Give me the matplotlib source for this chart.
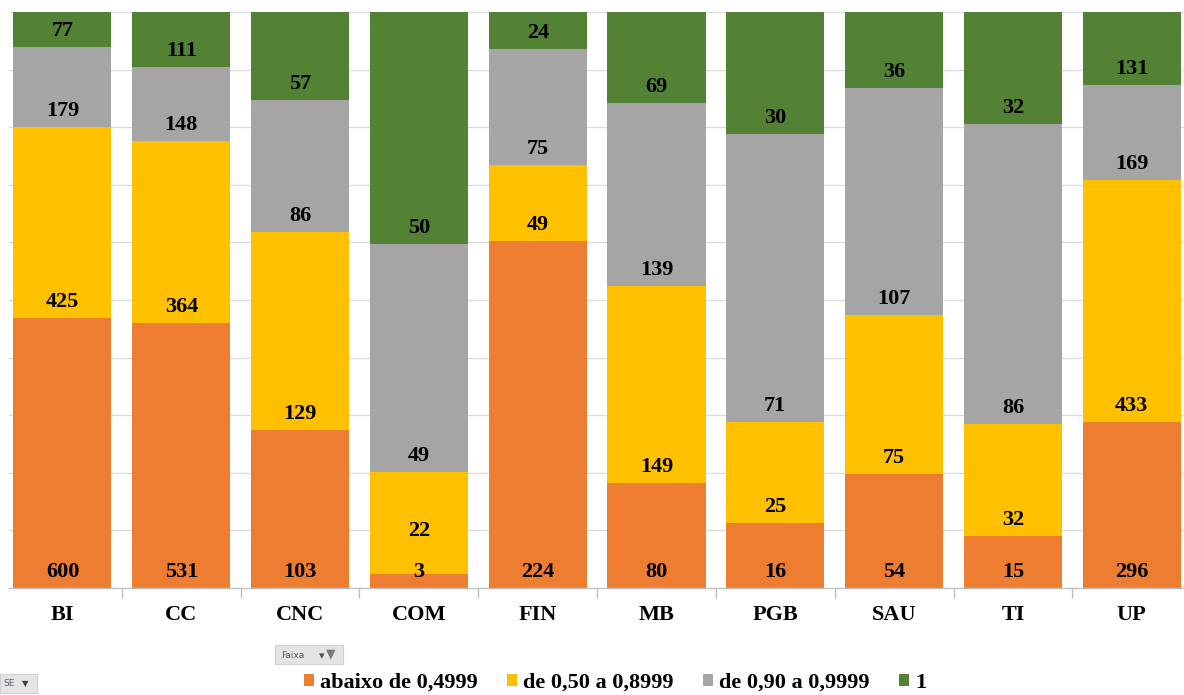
import matplotlib
matplotlib.use("Agg")
import matplotlib.pyplot as plt
from matplotlib.patches import FancyBboxPatch
import numpy as np

categories = ["BI", "CC", "CNC", "COM", "FIN", "MB", "PGB", "SAU", "TI", "UP"]
series_names = ["abaixo de 0,4999", "de 0,50 a 0,8999", "de 0,90 a 0,9999", "1"]
abaixo = [600, 531, 103, 3, 224, 80, 16, 54, 15, 296]
de050 = [425, 364, 129, 22, 49, 149, 25, 75, 32, 433]
de090 = [179, 148, 86, 49, 75, 139, 71, 107, 86, 169]
um = [77, 111, 57, 50, 24, 69, 30, 36, 32, 131]
colors = ["#ED7D31", "#FFC000", "#A5A5A5", "#548235"]

plt.rcParams["font.family"] = ["Liberation Serif", "DejaVu Serif"]

fig = plt.figure(figsize=(11.84, 6.95), dpi=100)
ax_h_px = 588 - 12
ax = fig.add_axes([9 / 1184, 107 / 695, 1 - 9 / 1184, ax_h_px / 695])

data = np.array([abaixo, de050, de090, um], dtype=float)
totals = data.sum(axis=0)
shares = data / totals * 100
x = np.arange(len(categories))
bottom = np.zeros(len(categories))
width = 0.825

# label placement (data units): just above each segment base, pushed up if crowded
base_off = 16 / ax_h_px * 100
min_sep = 41 / ax_h_px * 100
last_label = np.full(len(categories), -1e9)

handles = []
for vals, pct, col, name in zip(data, shares, colors, series_names):
    bars = ax.bar(x, pct, width, bottom=bottom, color=col, label=name, zorder=2)
    handles.append(bars)
    for i, (xi, b, v) in enumerate(zip(x, bottom, vals)):
        y = max(b + base_off, last_label[i] + min_sep)
        last_label[i] = y
        ax.text(xi, y, f"{int(v)}", ha="center", va="center", fontsize=16,
                fontweight="bold", color="black", zorder=3)
    bottom += pct

ax.set_ylim(0, 100)
ax.set_yticks(np.arange(10, 101, 10))
ax.yaxis.grid(True, color="#DCDCDC", linewidth=1, zorder=0)
ax.tick_params(axis="y", left=False, labelleft=False)
for s in ["top", "right", "left"]:
    ax.spines[s].set_visible(False)
ax.spines["bottom"].set_color("#BFBFBF")
ax.spines["bottom"].set_linewidth(1)

ax.set_xticks(x)
ax.set_xticklabels(categories, fontsize=16, fontweight="bold")
ax.tick_params(axis="x", length=0, pad=12)
ax.set_xticks(np.arange(-0.5, 10, 1), minor=True)
ax.tick_params(axis="x", which="minor", length=7, color="#BFBFBF", width=1)
ax.set_xlim(-0.45, 9.44)

fig.legend(handles=handles, labels=series_names, loc="center",
           bbox_to_anchor=(615 / 1184, 1 - 683 / 695), ncol=4, frameon=False,
           prop={"size": 16, "weight": "bold"}, handlelength=0.45, handleheight=0.45,
           handletextpad=0.25, columnspacing=1.35)

# pivot field buttons
btn = FancyBboxPatch((275 / 1184, 1 - 664 / 695), 68 / 1184, 19 / 695,
                     boxstyle="square,pad=0", transform=fig.transFigure,
                     facecolor="#E4E4E4", edgecolor="#D0D0D0", linewidth=0.8)
fig.patches.append(btn)
fig.text(293 / 1184, 1 - 655 / 695, "Faixa", fontsize=6.5, family="DejaVu Sans",
         color="#505A6E", ha="center", va="center")
fig.text(322 / 1184, 1 - 656 / 695, "▾", fontsize=8, family="DejaVu Sans",
         color="#505050", ha="center", va="center")
fig.text(331 / 1184, 1 - 654 / 695, "▼", fontsize=9, family="DejaVu Sans",
         color="#7A7A7A", ha="center", va="center")

btn2 = FancyBboxPatch((0, 1 - 693 / 695), 37 / 1184, 19 / 695,
                      boxstyle="square,pad=0", transform=fig.transFigure,
                      facecolor="#E4E4E4", edgecolor="#D0D0D0", linewidth=0.8)
fig.patches.append(btn2)
fig.text(9 / 1184, 1 - 684 / 695, "SE", fontsize=6.5, family="DejaVu Sans",
         color="#505A6E", ha="center", va="center")
fig.text(25 / 1184, 1 - 684 / 695, "▼", fontsize=6, family="DejaVu Sans",
         color="#404040", ha="center", va="center")

fig.savefig("out.png", dpi=100)
